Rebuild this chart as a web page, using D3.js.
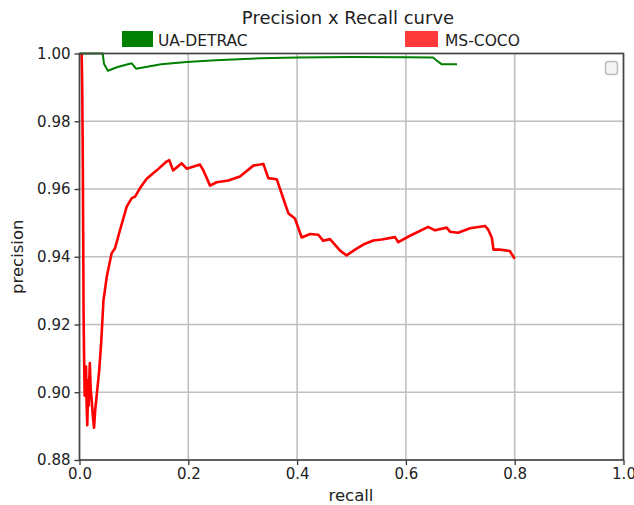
<!DOCTYPE html>
<html lang="en">
<head>
    <meta charset="UTF-8">
    <title>Precision x Recall curve</title>
    <script src="https://d3js.org/d3.v7.min.js"></script>
    <style>
        body {
            margin: 0;
            background: white;
            font-family: "DejaVu Sans", sans-serif;
        }
    </style>
</head>
<body>
<div id="chart"></div>
<script>
    // values
    const seriesNames = ["UA-DETRAC", "MS-COCO"];
    const seriesColors = ["#008000", "#ff0000"];

    const detracRecall = [0, 0.0426, 0.045, 0.049, 0.052, 0.07, 0.096, 0.104, 0.15, 0.197, 0.25, 0.332, 0.4, 0.5, 0.6, 0.65, 0.656, 0.666, 0.694];
    const detracPrecision = [1.0, 1.0, 0.997, 0.9958, 0.9949, 0.996, 0.9971, 0.9955, 0.9968, 0.9975, 0.998, 0.9986, 0.9988, 0.999, 0.9989, 0.9988, 0.998, 0.9968, 0.9968];

    const cocoRecall = [0.004, 0.005, 0.006, 0.007, 0.0075, 0.0085, 0.0095, 0.0105, 0.0115, 0.012, 0.013, 0.0143, 0.0155, 0.016, 0.017, 0.018, 0.019, 0.0205, 0.0224, 0.0245, 0.0267, 0.029, 0.0316, 0.036, 0.04, 0.044, 0.05, 0.059, 0.0653, 0.0745, 0.0868, 0.096, 0.102, 0.111, 0.1235, 0.142, 0.16, 0.165, 0.172, 0.188, 0.197, 0.2215, 0.228, 0.24, 0.252, 0.2735, 0.295, 0.3195, 0.338, 0.347, 0.3625, 0.3746, 0.384, 0.396, 0.4085, 0.4237, 0.439, 0.448, 0.4605, 0.479, 0.491, 0.5065, 0.5217, 0.54, 0.5555, 0.58, 0.586, 0.6075, 0.641, 0.6535, 0.675, 0.681, 0.696, 0.718, 0.7454, 0.751, 0.758, 0.761, 0.773, 0.791, 0.8];
    const cocoPrecision = [1.0, 0.99, 0.97, 0.94, 0.923, 0.9095, 0.899, 0.905, 0.9, 0.9076, 0.897, 0.8903, 0.899, 0.9036, 0.896, 0.904, 0.9086, 0.901, 0.8977, 0.893, 0.8895, 0.895, 0.899, 0.906, 0.915, 0.927, 0.934, 0.941, 0.9425, 0.9479, 0.9548, 0.9573, 0.9577, 0.9602, 0.963, 0.9655, 0.9681, 0.9685, 0.9655, 0.9676, 0.966, 0.9672, 0.9654, 0.961, 0.962, 0.9625, 0.9637, 0.9669, 0.9674, 0.9632, 0.9629, 0.9572, 0.9528, 0.9513, 0.9457, 0.9467, 0.9465, 0.9447, 0.9452, 0.9418, 0.9404, 0.9421, 0.9436, 0.9448, 0.9451, 0.9458, 0.9443, 0.9462, 0.9488, 0.9478, 0.9486, 0.9474, 0.9471, 0.9484, 0.9491, 0.9481, 0.9456, 0.9421, 0.9421, 0.9417, 0.9394];

    const xTicks = [0, 0.2, 0.4, 0.6, 0.8, 1.0];
    const yTicks = [0.88, 0.90, 0.92, 0.94, 0.96, 0.98, 1.00];

    const W = 634, H = 505;
    const margin = {top: 53.5, right: 10.5, bottom: 45, left: 79.5};
    const width = W - margin.left - margin.right;
    const height = H - margin.top - margin.bottom;

    const svg = d3.select("#chart")
        .append("svg")
        .attr("width", W)
        .attr("height", H);

    const g = svg.append("g")
        .attr("transform", `translate(${margin.left},${margin.top})`);

    const x = d3.scaleLinear().domain([0, 1]).range([0, width]);
    const y = d3.scaleLinear().domain([0.88, 1.0]).range([height, 0]);

    // grid
    g.append("g")
        .selectAll("line")
        .data(xTicks)
        .join("line")
        .attr("x1", d => x(d)).attr("x2", d => x(d))
        .attr("y1", 0).attr("y2", height)
        .attr("stroke", "#c0c0c0")
        .attr("stroke-width", 1.6);

    g.append("g")
        .selectAll("line")
        .data(yTicks)
        .join("line")
        .attr("x1", 0).attr("x2", width)
        .attr("y1", d => y(d)).attr("y2", d => y(d))
        .attr("stroke", "#c0c0c0")
        .attr("stroke-width", 1.6);

    // axes
    const xAxis = g.append("g")
        .attr("transform", `translate(0,${height})`)
        .call(d3.axisBottom(x).tickValues(xTicks).tickFormat(d3.format(".1f")).tickSizeOuter(0).tickSize(5).tickPadding(3));
    const yAxis = g.append("g")
        .call(d3.axisLeft(y).tickValues(yTicks).tickFormat(d3.format(".2f")).tickSizeOuter(0).tickSize(5).tickPadding(4));

    [xAxis, yAxis].forEach(a => {
        a.select(".domain").remove();
        a.selectAll(".tick line").attr("stroke", "#333").attr("stroke-width", 1.3);
        a.selectAll(".tick text")
            .attr("fill", "#222")
            .style("font-family", "DejaVu Sans")
            .style("font-size", "15px");
    });

    const line = d3.line()
        .x(d => x(d[0]))
        .y(d => y(d[1]));

    g.append("clipPath").attr("id", "clip")
        .append("rect").attr("x", -2).attr("y", -2).attr("width", width + 4).attr("height", height + 4);

    const detrac = detracRecall.map((r, i) => [r, detracPrecision[i]]);
    const coco = cocoRecall.map((r, i) => [r, cocoPrecision[i]]);

    g.append("path")
        .datum(coco)
        .attr("clip-path", "url(#clip)")
        .attr("fill", "none")
        .attr("stroke", seriesColors[1])
        .attr("stroke-width", 2.6)
        .attr("stroke-linejoin", "round")
        .attr("d", line);

    g.append("path")
        .datum(detrac)
        .attr("clip-path", "url(#clip)")
        .attr("fill", "none")
        .attr("stroke", seriesColors[0])
        .attr("stroke-width", 2)
        .attr("stroke-linejoin", "round")
        .attr("d", line);

    // frame
    g.append("rect")
        .attr("width", width)
        .attr("height", height)
        .attr("fill", "none")
        .attr("stroke", "#444")
        .attr("stroke-width", 1.6);

    // empty legend box in the corner
    g.append("rect")
        .attr("x", width - 18).attr("y", 8)
        .attr("width", 12).attr("height", 13)
        .attr("rx", 3)
        .attr("fill", "#f4f4f4")
        .attr("stroke", "#bbb")
        .attr("stroke-width", 1.5);

    // title and labels
    svg.append("text")
        .attr("x", 348)
        .attr("y", 24)
        .attr("text-anchor", "middle")
        .style("font-size", "18px")
        .attr("fill", "#222")
        .text("Precision x Recall curve");

    svg.append("text")
        .attr("x", 351)
        .attr("y", 501)
        .attr("text-anchor", "middle")
        .style("font-size", "16.5px")
        .attr("fill", "#222")
        .text("recall");

    svg.append("text")
        .attr("transform", `translate(23,${margin.top + height / 2}) rotate(-90)`)
        .attr("text-anchor", "middle")
        .style("font-size", "16.5px")
        .attr("fill", "#222")
        .text("precision");

    // legend above the plot
    const legendX = [122, 405];
    const legend = svg.append("g")
        .selectAll("g")
        .data(seriesNames)
        .join("g")
        .attr("transform", (d, i) => `translate(${legendX[i]},31)`);

    legend.append("rect")
        .attr("width", (d, i) => i === 0 ? 31 : 33)
        .attr("height", 16)
        .attr("fill", (d, i) => i === 0 ? "#008000" : "#ff3a3a");

    legend.append("text")
        .attr("x", (d, i) => i === 0 ? 36 : 40)
        .attr("y", 15)
        .style("font-size", "15.5px")
        .attr("fill", "#222")
        .text(d => d);
</script>
</body>
</html>
